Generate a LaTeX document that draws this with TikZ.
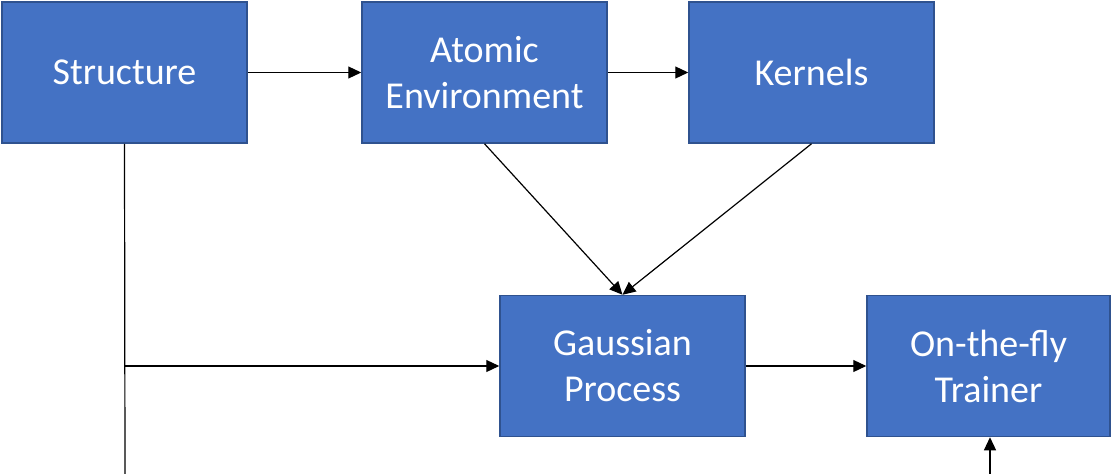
\documentclass[tikz,border=0pt]{standalone}
\usepackage{fontspec}
\setmainfont{Carlito}
\usetikzlibrary{arrows.meta}
\definecolor{boxfill}{HTML}{4472C4}
\definecolor{boxline}{HTML}{2F528F}
\begin{document}
\begin{tikzpicture}[x=1pt,y=-1pt,
  blk/.style={draw=boxline,line width=1.5pt,fill=boxfill,text=white,
    minimum width=245pt,minimum height=141pt,inner sep=0pt,
    align=center,font=\fontsize{38}{46}\selectfont},
  conn/.style={line width=1.2pt,-{Triangle[length=13pt,width=12pt]}}]
\useasboundingbox (0,0) rectangle (1112,474);
\node[blk] (st) at (124.5,72.5) {Structure};
\node[blk] (ae) at (484.5,72.5) {Atomic\\Environment};
\node[blk] (ke) at (811.5,72.5) {Kernels};
\node[blk] (gp) at (622.5,366) {Gaussian\\Process};
\node[blk,minimum width=243pt] (ot) at (988.5,366) {On-the-fly\\Trainer};
\coordinate (bot) at (125,474);
\coordinate (br) at (125,366);
\coordinate (otb) at (990,474);
\draw[conn] (st.east) -- (ae.west);
\draw[conn] (ae.east) -- (ke.west);
\draw[conn] (ae.south) -- (gp.north);
\draw[conn] (ke.south) -- (gp.north);
\draw[line width=1.2pt] (st.south) -- (bot);
\draw[conn] (br) -- (gp.west);
\draw[conn] (gp.east) -- (ot.west);
\draw[conn] (otb) -- (ot.south -| otb);
\end{tikzpicture}
\end{document}
